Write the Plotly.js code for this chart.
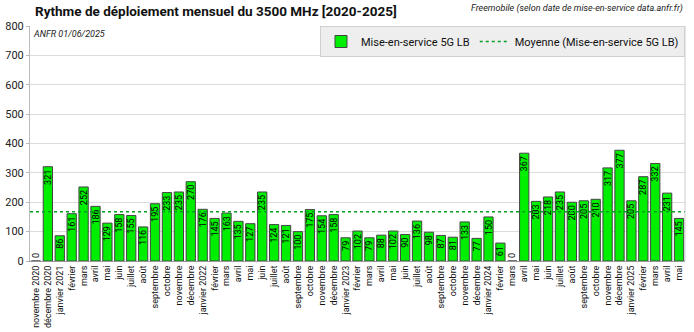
<!DOCTYPE html>
<html><head><meta charset="utf-8">
<script src="https://cdn.plot.ly/plotly-3.0.1.min.js"></script>
<style>body{margin:0;padding:0;background:#fff}#chart{width:694px;height:332px}</style>
</head><body><div id="chart"></div>
<script>
const months = ["novembre 2020","décembre 2020","janvier 2021","février","mars","avril","mai","juin","juillet","août","septembre","octobre","novembre","décembre",
"janvier 2022","février","mars","avril","mai","juin","juillet","août","septembre","octobre","novembre","décembre",
"janvier 2023","février","mars","avril","mai","juin","juillet","août","septembre","octobre","novembre","décembre",
"janvier 2024","février","mars","avril","mai","juin","juillet","août","septembre","octobre","novembre","décembre",
"janvier 2025","février","mars","avril","mai"];
const values = [0,321,86,161,252,186,129,158,155,116,195,233,235,270,
176,145,163,135,127,235,124,121,100,175,154,158,
79,102,79,88,102,90,136,98,87,81,133,77,
150,61,0,367,203,218,235,200,205,210,317,377,
205,287,332,231,145];
const seriesName = "Mise-en-service 5G LB";
const meanName = "Moyenne (Mise-en-service 5G LB)";

const idx = months.map((_, i) => i);
const mean = values.reduce((a, b) => a + b, 0) / values.length;

const traces = [
  {
    type: 'bar', x: idx, y: values, name: seriesName,
    text: values.map(String), textposition: values.map(v => v === 0 ? 'outside' : 'inside'), textangle: -90,
    constraintext: 'none', cliponaxis: false, insidetextanchor: 'end',
    textfont: {size: 9, color: '#000', family: 'Roboto, sans-serif'},
    marker: {color: '#00ee00', line: {color: '#444', width: 1}},
    hoverinfo: 'none'
  },
  {
    type: 'scatter', mode: 'lines', x: [-0.5, values.length - 0.5], y: [mean, mean],
    name: meanName, line: {color: '#00a020', width: 1.5, dash: 'dot'}, hoverinfo: 'none'
  }
];

const layout = {
  width: 694, height: 332,
  margin: {l: 30, r: 9, t: 26, b: 71},
  paper_bgcolor: '#fff', plot_bgcolor: '#fff',
  font: {family: 'Roboto, sans-serif', color: '#222'},
  bargap: 0.22,
  showlegend: true,
  title: {text: 'Rythme de déploiement mensuel du 3500 MHz [2020-2025]', x: 35/694, xref: 'container', xanchor: 'left',
          y: 1 - 11/332, yref: 'container', yanchor: 'middle', font: {size: 13.5, color: '#111', weight: 'bold'}},
  xaxis: {
    range: [-0.5, values.length - 0.5], tickvals: idx, ticktext: months, tickangle: -90,
    tickfont: {size: 9, color: '#111'}, showgrid: false, showline: true, linecolor: '#999',
    ticks: '', mirror: false, zeroline: false, fixedrange: true
  },
  yaxis: {
    range: [0, 800], dtick: 100, tickfont: {size: 11, color: '#222'}, gridcolor: '#dcdcdc',
    showline: true, linecolor: '#bbb', ticks: 'outside', ticklen: 3, tickcolor: '#bbb', zeroline: false, fixedrange: true
  },
  shapes: [{type: 'line', xref: 'paper', yref: 'paper', x0: 1, x1: 1, y0: 0, y1: 1, line: {color: '#ccc', width: 1}}],
  legend: {orientation: 'h', x: 1, xanchor: 'right', y: 1, yanchor: 'top', bgcolor: '#eeeeee', bordercolor: '#d0d0d0', borderwidth: 1,
           font: {size: 11, color: '#111'}, traceorder: 'normal', itemwidth: 30},
  annotations: [
    {text: 'Freemobile (selon date de mise-en-service data.anfr.fr)', xref: 'paper', yref: 'paper', x: 1, xanchor: 'right',
     y: 1, yanchor: 'bottom', yshift: 10, showarrow: false, font: {size: 9, color: '#222', style: 'italic'}},
    {text: 'ANFR 01/06/2025', xref: 'paper', yref: 'paper', x: 0, xanchor: 'left', xshift: 1, y: 1, yanchor: 'top', yshift: -1,
     showarrow: false, font: {size: 9, color: '#222', style: 'italic'}}
  ]
};

Plotly.newPlot('chart', traces, layout, {displayModeBar: false, staticPlot: true});
</script></body></html>
